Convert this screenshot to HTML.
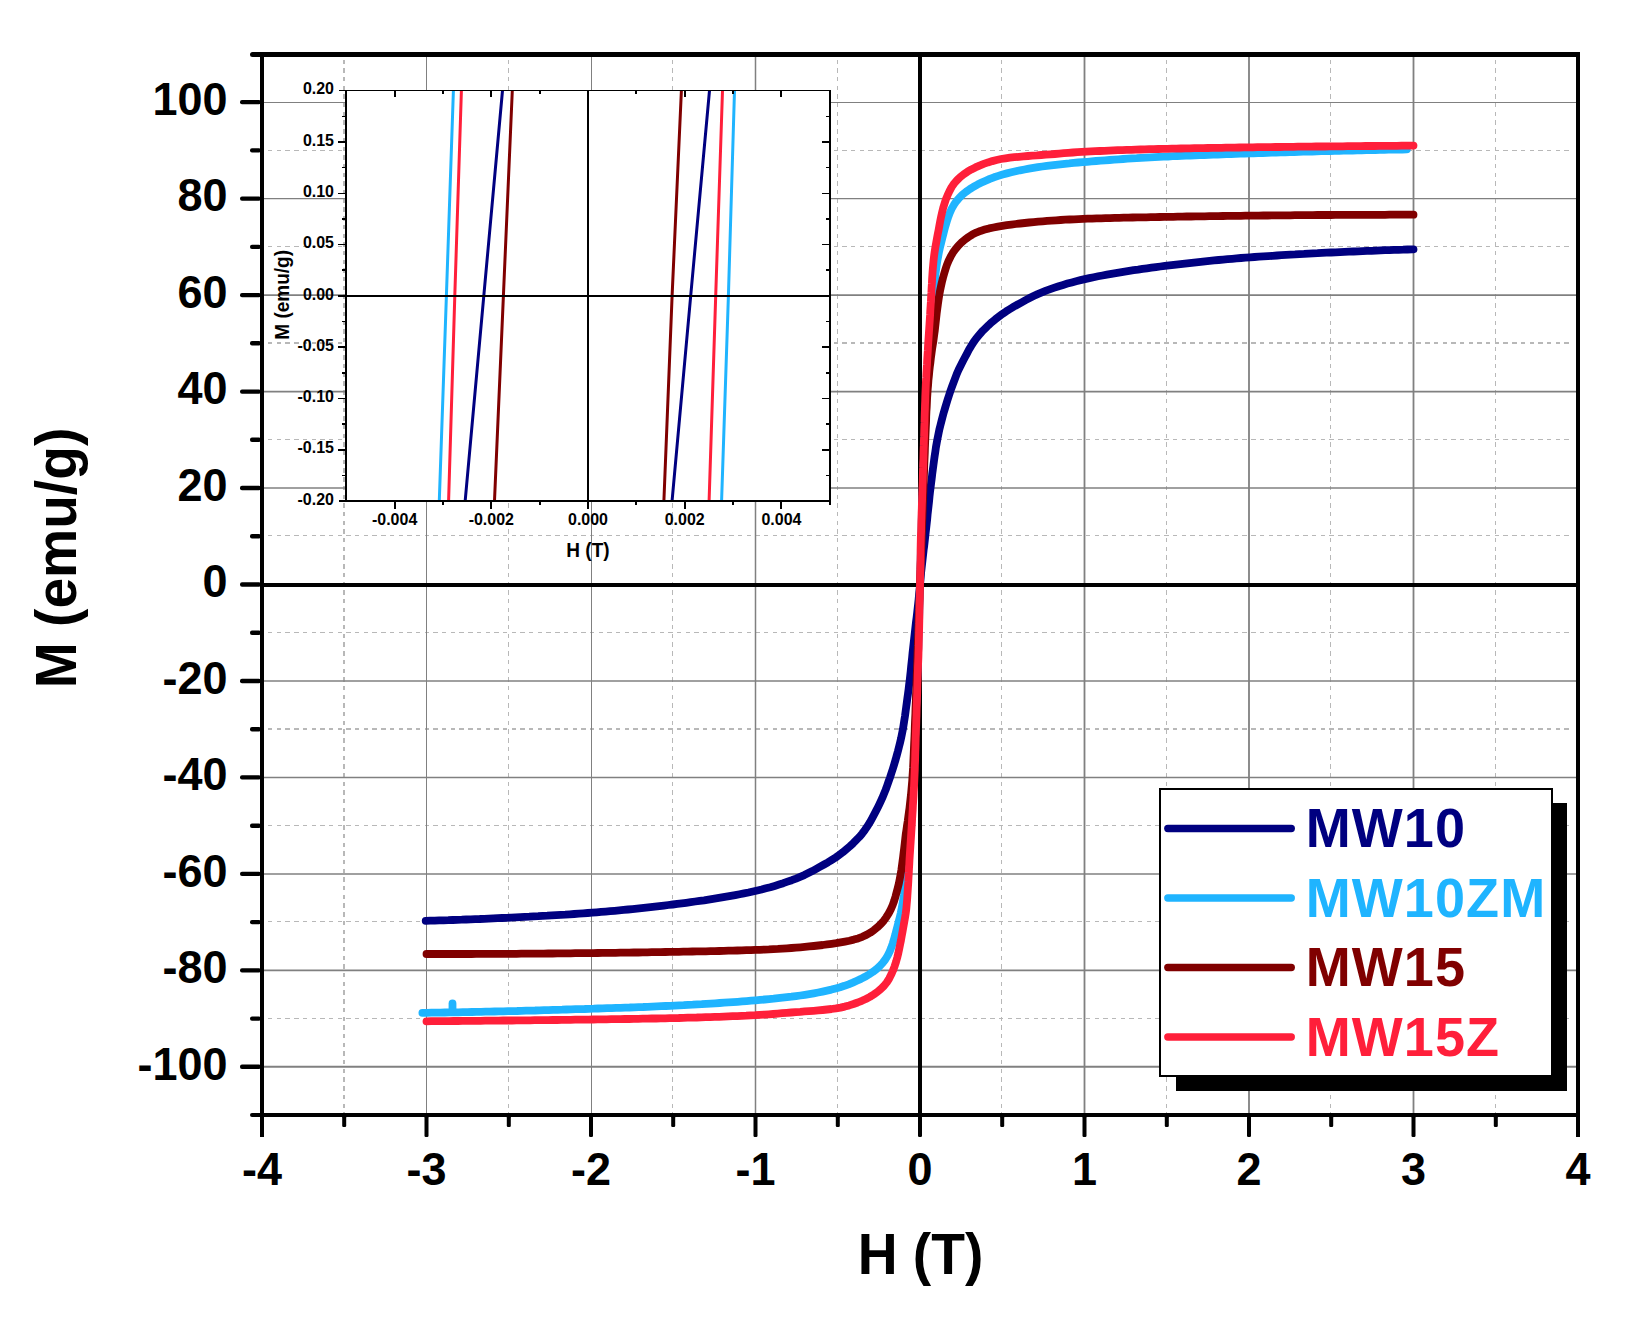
<!DOCTYPE html>
<html lang="en"><head><meta charset="utf-8"><title>M-H hysteresis loops</title>
<style>
html,body{margin:0;padding:0;background:#fff;}
body{width:1639px;height:1344px;overflow:hidden;font-family:"Liberation Sans",sans-serif;}
svg{display:block;}
</style></head><body>
<svg width="1639" height="1344" viewBox="0 0 1639 1344" font-family="'Liberation Sans', sans-serif" font-weight="bold">
<rect width="1639" height="1344" fill="#fff"/>
<g id="grid-minor" stroke="#b8b8b8" stroke-width="1" stroke-dasharray="4.4 4.3" fill="none" shape-rendering="crispEdges">
<line x1="344.0" y1="59.5" x2="344.0" y2="1113.0" stroke-width="2"/>
<line x1="508.5" y1="59.5" x2="508.5" y2="1113.0"/>
<line x1="672.5" y1="59.5" x2="672.5" y2="1113.0"/>
<line x1="837.5" y1="59.5" x2="837.5" y2="1113.0"/>
<line x1="1001.5" y1="59.5" x2="1001.5" y2="1113.0"/>
<line x1="1166.5" y1="59.5" x2="1166.5" y2="1113.0"/>
<line x1="1330.5" y1="59.5" x2="1330.5" y2="1113.0"/>
<line x1="1495.5" y1="59.5" x2="1495.5" y2="1113.0"/>
<line x1="268.0" y1="1018.5" x2="1572.0" y2="1018.5"/>
<line x1="268.0" y1="921.5" x2="1572.0" y2="921.5"/>
<line x1="268.0" y1="825.5" x2="1572.0" y2="825.5"/>
<line x1="268.0" y1="729.0" x2="1572.0" y2="729.0" stroke-width="2"/>
<line x1="268.0" y1="632.5" x2="1572.0" y2="632.5"/>
<line x1="268.0" y1="535.5" x2="1572.0" y2="535.5"/>
<line x1="268.0" y1="439.5" x2="1572.0" y2="439.5"/>
<line x1="268.0" y1="343.0" x2="1572.0" y2="343.0" stroke-width="2"/>
<line x1="268.0" y1="246.5" x2="1572.0" y2="246.5"/>
<line x1="268.0" y1="150.5" x2="1572.0" y2="150.5"/>
</g>
<g id="grid-major" stroke="#808080" stroke-width="1.6" fill="none">
<line x1="426.5" y1="54.5" x2="426.5" y2="1115.0" stroke-width="1.0"/>
<line x1="591.5" y1="54.5" x2="591.5" y2="1115.0" stroke-width="1.0"/>
<line x1="755.5" y1="54.5" x2="755.5" y2="1115.0" stroke-width="1.5"/>
<line x1="1084.5" y1="54.5" x2="1084.5" y2="1115.0" stroke-width="1.8"/>
<line x1="1249.0" y1="54.5" x2="1249.0" y2="1115.0" stroke-width="1.8"/>
<line x1="1413.5" y1="54.5" x2="1413.5" y2="1115.0" stroke-width="1.8"/>
<line x1="262.0" y1="1066.8" x2="1578.0" y2="1066.8" stroke-width="2.0"/>
<line x1="262.0" y1="970.4" x2="1578.0" y2="970.4" stroke-width="1.7"/>
<line x1="262.0" y1="873.9" x2="1578.0" y2="873.9" stroke-width="1.5"/>
<line x1="262.0" y1="777.4" x2="1578.0" y2="777.4" stroke-width="1.5"/>
<line x1="262.0" y1="681.0" x2="1578.0" y2="681.0" stroke-width="1.5"/>
<line x1="262.0" y1="488.0" x2="1578.0" y2="488.0" stroke-width="1.5"/>
<line x1="262.0" y1="391.6" x2="1578.0" y2="391.6" stroke-width="1.9"/>
<line x1="262.0" y1="295.1" x2="1578.0" y2="295.1" stroke-width="1.9"/>
<line x1="262.0" y1="198.6" x2="1578.0" y2="198.6" stroke-width="1.3"/>
<line x1="262.0" y1="102.5" x2="1578.0" y2="102.5" stroke-width="1.0"/>
</g>
<g id="zero" fill="#000">
<rect x="918" y="54" width="4" height="1062"/>
<rect x="262" y="583" width="1316" height="4"/>
</g>
<g id="curves" fill="none" stroke-width="7.8" stroke-linecap="round" stroke-linejoin="round">
<path stroke="#000080" d="M425.7 920.9 L430.2 920.7 L434.7 920.6 L439.2 920.4 L443.7 920.3 L448.2 920.2 L452.7 920.0 L457.2 919.8 L461.7 919.7 L466.2 919.5 L470.7 919.3 L475.2 919.1 L479.7 919.0 L484.2 918.8 L488.7 918.6 L493.2 918.4 L497.7 918.2 L502.2 918.0 L506.7 917.8 L511.2 917.6 L515.7 917.3 L520.2 917.1 L524.7 916.9 L529.2 916.7 L533.7 916.4 L538.2 916.2 L542.7 915.9 L547.2 915.7 L551.7 915.4 L556.2 915.1 L560.7 914.8 L565.2 914.6 L569.7 914.3 L574.2 914.0 L578.7 913.6 L583.2 913.3 L587.7 913.0 L592.2 912.7 L596.7 912.3 L601.1 911.9 L605.6 911.6 L610.1 911.2 L614.6 910.8 L619.1 910.4 L623.6 909.9 L628.1 909.5 L632.5 909.1 L637.0 908.6 L641.5 908.1 L646.0 907.6 L650.5 907.1 L654.9 906.6 L659.4 906.1 L663.9 905.6 L668.4 905.0 L672.8 904.5 L677.3 903.9 L681.8 903.3 L686.2 902.8 L690.7 902.2 L695.2 901.5 L699.6 900.9 L704.1 900.3 L708.5 899.6 L713.0 898.9 L717.4 898.2 L721.9 897.4 L726.3 896.7 L730.8 895.9 L735.2 895.1 L739.6 894.2 L744.0 893.4 L748.5 892.5 L752.9 891.5 L757.3 890.5 L761.6 889.5 L766.0 888.3 L770.3 887.2 L774.7 885.9 L779.0 884.6 L783.3 883.2 L787.5 881.7 L791.8 880.2 L796.0 878.6 L800.1 876.9 L804.3 875.1 L808.3 873.1 L812.3 871.1 L816.3 868.9 L820.2 866.7 L824.1 864.5 L828.0 862.3 L831.9 859.9 L835.7 857.5 L839.3 854.9 L842.9 852.2 L846.4 849.3 L849.8 846.4 L853.1 843.3 L856.3 840.1 L859.4 836.9 L862.3 833.4 L865.0 829.8 L867.6 826.1 L869.9 822.3 L872.1 818.3 L874.2 814.4 L876.3 810.4 L878.3 806.4 L880.3 802.3 L882.2 798.2 L883.9 794.1 L885.6 789.9 L887.1 785.7 L888.6 781.4 L890.1 777.2 L891.5 772.9 L892.9 768.6 L894.2 764.3 L895.5 760.0 L896.7 755.6 L897.9 751.3 L899.0 746.9 L900.1 742.5 L901.1 738.2 L902.0 733.7 L902.9 729.3 L903.6 724.9 L904.3 720.4 L905.0 716.0 L905.6 711.5 L906.2 707.0 L906.8 702.6 L907.4 698.1 L908.0 693.7 L908.6 689.2 L909.1 684.7 L909.7 680.2 L910.2 675.8 L910.7 671.3 L911.1 666.8 L911.6 662.3 L912.1 657.8 L912.5 653.4 L913.0 648.9 L913.5 644.4 L914.0 639.9 L914.5 635.4 L915.0 631.0 L915.5 626.5 L916.0 622.0 L916.6 617.5 L917.1 613.1 L917.6 608.6 L918.1 604.1 L918.6 599.6 L919.0 595.2 L919.5 590.7 L919.9 586.2 L920.3 581.7 L920.7 577.2 L921.1 572.7 L921.6 568.2 L922.1 563.8 L922.6 559.3 L923.1 554.8 L923.6 550.3 L924.2 545.9 L924.7 541.4 L925.2 536.9 L925.7 532.4 L926.2 528.0 L926.7 523.5 L927.2 519.0 L927.6 514.5 L928.1 510.0 L928.6 505.6 L929.1 501.1 L929.5 496.6 L930.0 492.1 L930.6 487.6 L931.1 483.2 L931.7 478.7 L932.2 474.2 L932.8 469.8 L933.4 465.3 L934.0 460.8 L934.6 456.4 L935.3 451.9 L935.9 447.5 L936.7 443.0 L937.5 438.6 L938.4 434.2 L939.3 429.8 L940.4 425.4 L941.5 421.0 L942.6 416.7 L943.8 412.3 L945.1 408.0 L946.4 403.7 L947.7 399.4 L949.1 395.1 L950.5 390.8 L952.0 386.6 L953.6 382.3 L955.2 378.1 L956.8 373.9 L958.6 369.8 L960.6 365.7 L962.6 361.7 L964.7 357.7 L966.8 353.8 L968.9 349.8 L971.2 345.9 L973.6 342.1 L976.2 338.5 L979.1 335.0 L982.0 331.6 L985.2 328.4 L988.4 325.3 L991.8 322.2 L995.2 319.4 L998.8 316.6 L1002.4 313.9 L1006.1 311.4 L1010.0 309.0 L1013.8 306.7 L1017.7 304.5 L1021.7 302.3 L1025.6 300.1 L1029.6 298.0 L1033.6 296.0 L1037.7 294.1 L1041.9 292.4 L1046.1 290.7 L1050.3 289.2 L1054.5 287.7 L1058.8 286.2 L1063.1 284.9 L1067.4 283.6 L1071.8 282.4 L1076.1 281.2 L1080.5 280.1 L1084.9 279.1 L1089.3 278.1 L1093.7 277.2 L1098.1 276.3 L1102.5 275.5 L1106.9 274.6 L1111.4 273.8 L1115.8 273.1 L1120.3 272.3 L1124.7 271.6 L1129.2 270.9 L1133.6 270.2 L1138.1 269.6 L1142.5 268.9 L1147.0 268.3 L1151.5 267.7 L1155.9 267.1 L1160.4 266.5 L1164.9 265.9 L1169.3 265.4 L1173.8 264.8 L1178.3 264.3 L1182.7 263.8 L1187.2 263.3 L1191.7 262.8 L1196.2 262.3 L1200.7 261.8 L1205.1 261.3 L1209.6 260.9 L1214.1 260.4 L1218.6 260.0 L1223.1 259.6 L1227.6 259.2 L1232.1 258.8 L1236.5 258.4 L1241.0 258.0 L1245.5 257.7 L1250.0 257.3 L1254.5 257.0 L1259.0 256.7 L1263.5 256.4 L1268.0 256.1 L1272.5 255.8 L1277.0 255.5 L1281.5 255.2 L1286.0 254.9 L1290.5 254.6 L1295.0 254.4 L1299.5 254.1 L1304.0 253.9 L1308.5 253.6 L1313.0 253.4 L1317.5 253.2 L1322.0 252.9 L1326.5 252.7 L1331.0 252.5 L1335.5 252.3 L1340.0 252.1 L1344.5 251.9 L1349.0 251.7 L1353.5 251.5 L1358.0 251.3 L1362.5 251.1 L1367.0 250.9 L1371.5 250.8 L1376.0 250.6 L1380.5 250.4 L1385.0 250.2 L1389.5 250.1 L1394.0 249.9 L1398.5 249.8 L1403.0 249.7 L1407.5 249.5 L1412.0 249.4 L1413.5 249.3"/>
<path stroke="#1fb4ff" d="M422.4 1012.9 L426.9 1012.8 L431.4 1012.7 L435.9 1012.7 L440.4 1012.6 L444.9 1012.5 L449.4 1012.4 L453.9 1012.3 L458.4 1012.3 L462.9 1012.2 L467.4 1012.1 L472.0 1012.0 L476.5 1011.9 L481.0 1011.8 L485.5 1011.7 L490.0 1011.6 L494.5 1011.5 L499.0 1011.4 L503.5 1011.3 L508.0 1011.2 L512.5 1011.1 L517.0 1011.0 L521.5 1010.8 L526.0 1010.7 L530.5 1010.6 L535.0 1010.5 L539.5 1010.3 L544.0 1010.2 L548.5 1010.1 L553.1 1009.9 L557.6 1009.8 L562.1 1009.7 L566.6 1009.5 L571.1 1009.4 L575.6 1009.2 L580.1 1009.1 L584.6 1009.0 L589.1 1008.8 L593.6 1008.7 L598.1 1008.5 L602.6 1008.4 L607.1 1008.2 L611.6 1008.1 L616.1 1007.9 L620.6 1007.8 L625.1 1007.6 L629.6 1007.5 L634.1 1007.3 L638.6 1007.1 L643.1 1007.0 L647.6 1006.8 L652.1 1006.6 L656.7 1006.4 L661.2 1006.2 L665.7 1006.0 L670.2 1005.8 L674.7 1005.6 L679.2 1005.4 L683.7 1005.2 L688.2 1004.9 L692.7 1004.7 L697.2 1004.4 L701.7 1004.2 L706.2 1003.9 L710.7 1003.6 L715.2 1003.3 L719.7 1003.0 L724.2 1002.7 L728.6 1002.4 L733.1 1002.1 L737.6 1001.8 L742.1 1001.4 L746.6 1001.1 L751.1 1000.7 L755.6 1000.3 L760.1 999.9 L764.6 999.5 L769.1 999.1 L773.6 998.7 L778.0 998.2 L782.5 997.7 L787.0 997.2 L791.5 996.7 L795.9 996.1 L800.4 995.5 L804.9 994.8 L809.3 994.1 L813.8 993.3 L818.2 992.5 L822.6 991.6 L827.0 990.6 L831.4 989.6 L835.7 988.4 L840.1 987.2 L844.4 985.8 L848.6 984.3 L852.8 982.6 L856.9 980.8 L861.0 978.9 L865.0 976.8 L868.9 974.5 L872.6 972.1 L876.2 969.3 L879.5 966.3 L882.5 963.1 L885.3 959.5 L887.6 955.7 L889.6 951.7 L891.3 947.5 L892.8 943.2 L894.1 938.9 L895.3 934.6 L896.4 930.2 L897.6 925.9 L898.7 921.5 L899.8 917.1 L900.8 912.8 L901.7 908.3 L902.5 903.9 L903.2 899.5 L903.9 895.0 L904.4 890.5 L904.9 886.0 L905.3 881.6 L905.7 877.1 L906.0 872.6 L906.4 868.1 L906.7 863.6 L907.0 859.1 L907.3 854.6 L907.7 850.1 L908.0 845.6 L908.3 841.1 L908.7 836.6 L909.0 832.1 L909.3 827.6 L909.7 823.1 L910.0 818.6 L910.4 814.1 L910.7 809.7 L911.1 805.2 L911.5 800.7 L911.9 796.2 L912.2 791.7 L912.6 787.2 L912.9 782.7 L913.2 778.2 L913.4 773.7 L913.7 769.2 L913.9 764.7 L914.1 760.2 L914.3 755.7 L914.5 751.2 L914.6 746.7 L914.8 742.2 L915.0 737.7 L915.2 733.2 L915.3 728.7 L915.5 724.2 L915.7 719.7 L915.9 715.2 L916.0 710.7 L916.2 706.2 L916.4 701.6 L916.6 697.1 L916.7 692.6 L916.9 688.1 L917.1 683.6 L917.2 679.1 L917.4 674.6 L917.5 670.1 L917.7 665.6 L917.9 661.1 L918.0 656.6 L918.1 652.1 L918.3 647.6 L918.4 643.1 L918.6 638.6 L918.7 634.1 L918.8 629.6 L918.9 625.1 L919.1 620.6 L919.2 616.1 L919.3 611.6 L919.4 607.1 L919.5 602.5 L919.7 598.0 L919.8 593.5 L919.9 589.0 L920.0 584.5 L920.1 580.0 L920.2 575.5 L920.3 571.0 L920.5 566.5 L920.6 562.0 L920.7 557.5 L920.8 553.0 L920.9 548.5 L921.1 544.0 L921.2 539.5 L921.3 535.0 L921.4 530.5 L921.6 526.0 L921.7 521.5 L921.8 516.9 L922.0 512.4 L922.1 507.9 L922.3 503.4 L922.4 498.9 L922.6 494.4 L922.7 489.9 L922.9 485.4 L923.0 480.9 L923.2 476.4 L923.4 471.9 L923.6 467.4 L923.7 462.9 L923.9 458.4 L924.1 453.9 L924.2 449.4 L924.4 444.9 L924.6 440.4 L924.8 435.9 L924.9 431.4 L925.1 426.9 L925.3 422.4 L925.4 417.9 L925.6 413.4 L925.8 408.9 L926.0 404.4 L926.2 399.9 L926.4 395.3 L926.7 390.8 L926.9 386.3 L927.2 381.9 L927.5 377.4 L927.9 372.9 L928.2 368.4 L928.6 363.9 L929.0 359.4 L929.4 354.9 L929.7 350.4 L930.1 345.9 L930.4 341.4 L930.7 336.9 L931.0 332.4 L931.4 327.9 L931.7 323.4 L932.0 318.9 L932.4 314.4 L932.7 309.9 L933.0 305.5 L933.3 301.0 L933.6 296.5 L934.0 292.0 L934.3 287.5 L934.7 283.0 L935.1 278.5 L935.5 274.0 L936.1 269.5 L936.7 265.1 L937.4 260.6 L938.2 256.2 L939.0 251.8 L940.0 247.4 L941.1 243.0 L942.2 238.6 L943.3 234.3 L944.4 229.9 L945.6 225.5 L946.9 221.2 L948.3 216.9 L949.9 212.7 L951.7 208.7 L953.9 204.8 L956.5 201.1 L959.4 197.7 L962.6 194.5 L966.1 191.7 L969.8 189.1 L973.6 186.7 L977.5 184.6 L981.6 182.6 L985.7 180.7 L989.8 178.9 L994.0 177.3 L998.3 175.9 L1002.6 174.5 L1006.9 173.4 L1011.3 172.3 L1015.7 171.3 L1020.1 170.3 L1024.5 169.5 L1028.9 168.6 L1033.4 167.9 L1037.8 167.2 L1042.3 166.5 L1046.8 165.9 L1051.2 165.4 L1055.7 164.8 L1060.2 164.3 L1064.7 163.8 L1069.2 163.4 L1073.6 162.9 L1078.1 162.5 L1082.6 162.1 L1087.1 161.8 L1091.6 161.4 L1096.1 161.0 L1100.6 160.7 L1105.1 160.3 L1109.6 160.0 L1114.1 159.7 L1118.6 159.3 L1123.1 159.0 L1127.6 158.7 L1132.1 158.4 L1136.6 158.2 L1141.1 157.9 L1145.6 157.6 L1150.0 157.4 L1154.6 157.1 L1159.1 156.9 L1163.6 156.7 L1168.1 156.5 L1172.6 156.2 L1177.1 156.0 L1181.6 155.8 L1186.1 155.7 L1190.6 155.5 L1195.1 155.3 L1199.6 155.1 L1204.1 155.0 L1208.6 154.8 L1213.1 154.6 L1217.6 154.5 L1222.1 154.3 L1226.6 154.2 L1231.1 154.0 L1235.6 153.9 L1240.1 153.7 L1244.6 153.6 L1249.1 153.4 L1253.6 153.3 L1258.1 153.1 L1262.6 153.0 L1267.1 152.8 L1271.6 152.7 L1276.1 152.5 L1280.7 152.4 L1285.2 152.3 L1289.7 152.1 L1294.2 152.0 L1298.7 151.8 L1303.2 151.7 L1307.7 151.6 L1312.2 151.5 L1316.7 151.3 L1321.2 151.2 L1325.7 151.1 L1330.2 151.0 L1334.7 150.9 L1339.2 150.8 L1343.7 150.7 L1348.2 150.6 L1352.7 150.5 L1357.2 150.4 L1361.7 150.3 L1366.3 150.2 L1370.8 150.1 L1375.3 150.0 L1379.8 149.9 L1384.3 149.8 L1388.8 149.7 L1393.3 149.6 L1397.8 149.5 L1402.3 149.5 L1406.8 149.4"/>
<path stroke="#1fb4ff" d="M452.5 1012.0 L452.5 1003.5"/>
<path stroke="#800000" d="M426.5 954.0 L431.0 954.0 L435.5 954.0 L440.0 954.0 L444.5 954.0 L449.0 954.0 L453.5 954.0 L458.0 954.0 L462.5 954.0 L467.1 954.0 L471.6 954.0 L476.1 953.9 L480.6 953.9 L485.1 953.9 L489.6 953.9 L494.1 953.9 L498.6 953.8 L503.1 953.8 L507.6 953.8 L512.1 953.8 L516.6 953.8 L521.1 953.7 L525.6 953.7 L530.1 953.7 L534.6 953.6 L539.1 953.6 L543.6 953.6 L548.2 953.5 L552.7 953.5 L557.2 953.4 L561.7 953.4 L566.2 953.3 L570.7 953.3 L575.2 953.2 L579.7 953.2 L584.2 953.2 L588.7 953.1 L593.2 953.1 L597.7 953.0 L602.2 952.9 L606.7 952.9 L611.2 952.8 L615.7 952.8 L620.2 952.7 L624.7 952.7 L629.2 952.6 L633.8 952.5 L638.3 952.5 L642.8 952.4 L647.3 952.3 L651.8 952.2 L656.3 952.2 L660.8 952.1 L665.3 952.0 L669.8 951.9 L674.3 951.9 L678.8 951.8 L683.3 951.7 L687.8 951.6 L692.3 951.5 L696.8 951.4 L701.3 951.4 L705.8 951.3 L710.3 951.2 L714.8 951.1 L719.3 951.0 L723.9 950.9 L728.4 950.7 L732.9 950.6 L737.4 950.5 L741.9 950.4 L746.4 950.2 L750.9 950.1 L755.4 949.9 L759.9 949.8 L764.4 949.6 L768.9 949.4 L773.4 949.1 L777.9 948.9 L782.4 948.6 L786.9 948.3 L791.4 948.0 L795.9 947.6 L800.3 947.3 L804.8 946.9 L809.3 946.4 L813.8 946.0 L818.3 945.5 L822.8 945.0 L827.2 944.4 L831.7 943.8 L836.2 943.2 L840.6 942.4 L845.0 941.6 L849.4 940.7 L853.8 939.6 L858.1 938.4 L862.3 936.8 L866.4 934.9 L870.3 932.7 L874.0 930.1 L877.4 927.3 L880.7 924.2 L883.7 920.8 L886.3 917.2 L888.7 913.4 L890.8 909.4 L892.6 905.3 L894.1 901.1 L895.4 896.8 L896.6 892.4 L897.7 888.1 L898.8 883.7 L899.7 879.3 L900.5 874.9 L901.3 870.4 L901.9 866.0 L902.5 861.5 L903.1 857.0 L903.6 852.6 L904.2 848.1 L904.7 843.6 L905.2 839.1 L905.7 834.7 L906.4 830.2 L907.0 825.7 L907.7 821.3 L908.3 816.8 L908.9 812.4 L909.5 807.9 L910.0 803.4 L910.5 798.9 L911.0 794.5 L911.4 790.0 L911.8 785.5 L912.2 781.0 L912.5 776.5 L912.8 772.0 L913.1 767.5 L913.3 763.0 L913.5 758.5 L913.7 754.0 L913.9 749.5 L914.1 745.0 L914.3 740.5 L914.5 736.0 L914.7 731.5 L914.8 727.0 L915.0 722.5 L915.2 718.0 L915.4 713.5 L915.5 709.0 L915.7 704.5 L915.9 700.0 L916.0 695.5 L916.2 691.0 L916.4 686.5 L916.5 682.0 L916.7 677.5 L916.8 673.0 L917.0 668.5 L917.2 664.0 L917.3 659.5 L917.5 654.9 L917.6 650.4 L917.8 645.9 L917.9 641.4 L918.1 636.9 L918.3 632.4 L918.4 627.9 L918.6 623.4 L918.7 618.9 L918.9 614.4 L919.1 609.9 L919.2 605.4 L919.4 600.9 L919.6 596.4 L919.7 591.9 L919.9 587.4 L920.1 582.9 L920.2 578.4 L920.4 573.9 L920.6 569.4 L920.7 564.9 L920.9 560.4 L921.1 555.9 L921.2 551.4 L921.4 546.9 L921.6 542.4 L921.7 537.9 L921.9 533.4 L922.0 528.9 L922.2 524.4 L922.3 519.9 L922.5 515.4 L922.7 510.9 L922.8 506.4 L923.0 501.9 L923.1 497.4 L923.3 492.8 L923.4 488.3 L923.6 483.8 L923.8 479.3 L923.9 474.8 L924.1 470.3 L924.2 465.8 L924.4 461.3 L924.6 456.8 L924.8 452.3 L924.9 447.8 L925.1 443.3 L925.3 438.8 L925.5 434.3 L925.7 429.8 L925.9 425.3 L926.1 420.8 L926.2 416.3 L926.4 411.8 L926.7 407.3 L926.9 402.8 L927.1 398.3 L927.4 393.8 L927.7 389.3 L928.1 384.8 L928.4 380.3 L928.9 375.9 L929.3 371.4 L929.8 366.9 L930.4 362.4 L930.9 357.9 L931.5 353.5 L932.1 349.0 L932.8 344.6 L933.5 340.1 L934.1 335.6 L934.7 331.2 L935.2 326.7 L935.7 322.2 L936.2 317.7 L936.7 313.3 L937.3 308.8 L937.9 304.3 L938.5 299.9 L939.2 295.4 L940.0 291.0 L940.9 286.6 L941.9 282.2 L943.0 277.8 L944.2 273.5 L945.5 269.2 L946.9 264.9 L948.6 260.7 L950.6 256.7 L952.8 252.8 L955.4 249.2 L958.3 245.7 L961.5 242.5 L964.9 239.6 L968.5 237.0 L972.3 234.6 L976.3 232.6 L980.5 230.9 L984.8 229.6 L989.1 228.4 L993.5 227.5 L997.9 226.6 L1002.4 225.9 L1006.8 225.2 L1011.3 224.6 L1015.8 224.0 L1020.2 223.5 L1024.7 223.0 L1029.2 222.5 L1033.7 222.1 L1038.2 221.6 L1042.6 221.3 L1047.1 220.9 L1051.6 220.6 L1056.1 220.3 L1060.6 220.0 L1065.1 219.7 L1069.6 219.5 L1074.1 219.3 L1078.6 219.1 L1083.1 218.9 L1087.6 218.7 L1092.1 218.6 L1096.6 218.4 L1101.1 218.3 L1105.6 218.2 L1110.1 218.1 L1114.6 217.9 L1119.2 217.8 L1123.7 217.7 L1128.2 217.6 L1132.7 217.5 L1137.2 217.4 L1141.7 217.4 L1146.2 217.3 L1150.7 217.2 L1155.2 217.1 L1159.7 217.0 L1164.2 216.9 L1168.7 216.9 L1173.2 216.8 L1177.7 216.7 L1182.2 216.6 L1186.7 216.5 L1191.2 216.5 L1195.7 216.4 L1200.2 216.3 L1204.7 216.3 L1209.3 216.2 L1213.8 216.1 L1218.3 216.1 L1222.8 216.0 L1227.3 215.9 L1231.8 215.9 L1236.3 215.8 L1240.8 215.8 L1245.3 215.7 L1249.8 215.7 L1254.3 215.6 L1258.8 215.6 L1263.3 215.5 L1267.8 215.5 L1272.3 215.4 L1276.8 215.4 L1281.3 215.3 L1285.8 215.3 L1290.3 215.3 L1294.9 215.2 L1299.4 215.2 L1303.9 215.1 L1308.4 215.1 L1312.9 215.1 L1317.4 215.0 L1321.9 215.0 L1326.4 215.0 L1330.9 215.0 L1335.4 214.9 L1339.9 214.9 L1344.4 214.9 L1348.9 214.9 L1353.4 214.9 L1357.9 214.8 L1362.4 214.8 L1366.9 214.8 L1371.4 214.8 L1376.0 214.8 L1380.5 214.8 L1385.0 214.8 L1389.5 214.7 L1394.0 214.7 L1398.5 214.7 L1403.0 214.7 L1407.5 214.7 L1412.0 214.7 L1413.5 214.7"/>
<path stroke="#ff1f3a" d="M426.5 1021.3 L431.0 1021.2 L435.5 1021.2 L440.0 1021.1 L444.5 1021.1 L449.0 1021.1 L453.5 1021.0 L458.0 1021.0 L462.5 1020.9 L467.0 1020.9 L471.5 1020.9 L476.0 1020.8 L480.6 1020.8 L485.1 1020.7 L489.6 1020.7 L494.1 1020.6 L498.6 1020.6 L503.1 1020.5 L507.6 1020.5 L512.1 1020.5 L516.6 1020.4 L521.1 1020.4 L525.6 1020.3 L530.1 1020.3 L534.6 1020.2 L539.1 1020.2 L543.6 1020.1 L548.1 1020.1 L552.6 1020.0 L557.1 1020.0 L561.6 1019.9 L566.1 1019.9 L570.6 1019.8 L575.1 1019.7 L579.6 1019.7 L584.1 1019.6 L588.6 1019.6 L593.2 1019.5 L597.7 1019.4 L602.2 1019.4 L606.7 1019.3 L611.2 1019.2 L615.7 1019.2 L620.2 1019.1 L624.7 1019.0 L629.2 1019.0 L633.7 1018.9 L638.2 1018.8 L642.7 1018.7 L647.2 1018.6 L651.7 1018.5 L656.2 1018.5 L660.7 1018.4 L665.2 1018.3 L669.7 1018.2 L674.2 1018.1 L678.7 1018.0 L683.2 1017.8 L687.7 1017.7 L692.2 1017.6 L696.7 1017.5 L701.2 1017.3 L705.7 1017.2 L710.2 1017.1 L714.7 1016.9 L719.2 1016.8 L723.7 1016.6 L728.2 1016.4 L732.7 1016.2 L737.2 1016.1 L741.7 1015.9 L746.2 1015.7 L750.7 1015.4 L755.2 1015.2 L759.7 1014.9 L764.2 1014.6 L768.7 1014.3 L773.2 1014.0 L777.7 1013.6 L782.2 1013.2 L786.7 1012.8 L791.2 1012.5 L795.7 1012.1 L800.2 1011.8 L804.6 1011.4 L809.1 1011.1 L813.6 1010.8 L818.1 1010.4 L822.6 1010.0 L827.1 1009.5 L831.6 1009.0 L836.0 1008.4 L840.5 1007.6 L844.8 1006.6 L849.2 1005.4 L853.5 1004.0 L857.7 1002.5 L861.9 1000.8 L865.9 999.0 L869.9 996.9 L873.7 994.5 L877.4 991.9 L880.8 989.0 L884.0 985.9 L886.8 982.4 L889.2 978.6 L891.2 974.6 L893.0 970.5 L894.6 966.3 L896.0 962.0 L897.2 957.7 L898.3 953.3 L899.2 948.9 L900.1 944.5 L901.0 940.1 L901.8 935.6 L902.6 931.2 L903.4 926.8 L904.2 922.3 L905.0 917.9 L905.7 913.5 L906.3 909.0 L906.7 904.5 L907.1 900.0 L907.4 895.5 L907.7 891.0 L908.0 886.5 L908.3 882.0 L908.5 877.5 L908.8 873.0 L909.0 868.5 L909.3 864.0 L909.5 859.6 L909.8 855.1 L910.1 850.6 L910.4 846.1 L910.7 841.6 L911.0 837.1 L911.3 832.6 L911.6 828.1 L911.9 823.6 L912.1 819.1 L912.4 814.6 L912.7 810.1 L912.9 805.6 L913.2 801.1 L913.5 796.6 L913.7 792.1 L914.0 787.6 L914.2 783.1 L914.4 778.6 L914.6 774.1 L914.8 769.6 L914.9 765.1 L915.1 760.6 L915.2 756.1 L915.3 751.6 L915.5 747.1 L915.6 742.6 L915.7 738.1 L915.9 733.6 L916.0 729.1 L916.2 724.6 L916.3 720.1 L916.5 715.6 L916.6 711.1 L916.7 706.6 L916.9 702.1 L917.0 697.6 L917.2 693.1 L917.3 688.6 L917.4 684.1 L917.6 679.6 L917.7 675.1 L917.9 670.6 L918.0 666.1 L918.2 661.6 L918.4 657.1 L918.5 652.6 L918.7 648.1 L918.8 643.6 L918.9 639.1 L919.0 634.6 L919.1 630.1 L919.2 625.6 L919.3 621.0 L919.4 616.5 L919.5 612.0 L919.6 607.5 L919.7 603.0 L919.8 598.5 L919.8 594.0 L919.9 589.5 L920.0 585.0 L920.1 580.5 L920.1 576.0 L920.2 571.5 L920.3 567.0 L920.4 562.5 L920.5 558.0 L920.6 553.5 L920.6 549.0 L920.7 544.5 L920.8 540.0 L920.9 535.5 L921.1 531.0 L921.2 526.5 L921.3 522.0 L921.5 517.5 L921.6 513.0 L921.8 508.5 L921.9 504.0 L922.1 499.5 L922.2 495.0 L922.4 490.5 L922.5 486.0 L922.7 481.5 L922.8 477.0 L922.9 472.4 L923.1 467.9 L923.2 463.4 L923.4 458.9 L923.5 454.4 L923.6 449.9 L923.8 445.4 L923.9 440.9 L924.1 436.4 L924.2 431.9 L924.3 427.4 L924.5 422.9 L924.6 418.4 L924.7 413.9 L924.9 409.4 L925.0 404.9 L925.2 400.4 L925.3 395.9 L925.5 391.4 L925.7 386.9 L925.9 382.4 L926.2 377.9 L926.4 373.4 L926.7 368.9 L927.0 364.4 L927.2 359.9 L927.5 355.4 L927.8 350.9 L928.0 346.4 L928.3 341.9 L928.6 337.4 L928.9 333.0 L929.2 328.5 L929.5 324.0 L929.8 319.5 L930.1 315.0 L930.3 310.5 L930.6 306.0 L930.9 301.5 L931.1 297.0 L931.4 292.5 L931.6 288.0 L931.9 283.5 L932.1 279.0 L932.4 274.5 L932.7 270.0 L933.1 265.5 L933.5 261.0 L934.0 256.6 L934.6 252.1 L935.3 247.7 L936.1 243.2 L936.9 238.8 L937.7 234.4 L938.6 229.9 L939.4 225.5 L940.2 221.1 L941.1 216.7 L942.1 212.3 L943.2 207.9 L944.5 203.6 L945.9 199.3 L947.6 195.2 L949.5 191.1 L951.6 187.1 L954.1 183.5 L957.1 180.1 L960.3 177.0 L963.8 174.2 L967.5 171.7 L971.4 169.4 L975.4 167.4 L979.5 165.6 L983.7 163.9 L988.0 162.4 L992.3 161.1 L996.6 160.0 L1001.0 159.0 L1005.5 158.3 L1009.9 157.7 L1014.4 157.2 L1018.9 156.8 L1023.4 156.4 L1027.9 156.0 L1032.4 155.7 L1036.9 155.4 L1041.3 155.0 L1045.8 154.7 L1050.3 154.3 L1054.8 154.0 L1059.3 153.6 L1063.8 153.2 L1068.3 152.8 L1072.8 152.5 L1077.3 152.2 L1081.8 151.9 L1086.3 151.6 L1090.8 151.4 L1095.3 151.2 L1099.8 151.0 L1104.3 150.8 L1108.8 150.6 L1113.3 150.4 L1117.8 150.2 L1122.3 150.1 L1126.8 149.9 L1131.3 149.8 L1135.8 149.6 L1140.3 149.5 L1144.8 149.4 L1149.3 149.2 L1153.8 149.1 L1158.3 149.0 L1162.8 148.9 L1167.3 148.8 L1171.8 148.7 L1176.3 148.6 L1180.8 148.5 L1185.3 148.4 L1189.8 148.3 L1194.3 148.2 L1198.8 148.1 L1203.3 148.1 L1207.8 148.0 L1212.3 147.9 L1216.8 147.8 L1221.3 147.8 L1225.8 147.7 L1230.3 147.6 L1234.8 147.6 L1239.3 147.5 L1243.8 147.4 L1248.3 147.4 L1252.9 147.3 L1257.4 147.2 L1261.9 147.2 L1266.4 147.1 L1270.9 147.1 L1275.4 147.0 L1279.9 147.0 L1284.4 146.9 L1288.9 146.8 L1293.4 146.8 L1297.9 146.7 L1302.4 146.7 L1306.9 146.6 L1311.4 146.6 L1315.9 146.5 L1320.4 146.5 L1324.9 146.5 L1329.4 146.4 L1333.9 146.4 L1338.4 146.3 L1342.9 146.3 L1347.4 146.2 L1351.9 146.2 L1356.4 146.1 L1361.0 146.1 L1365.5 146.0 L1370.0 146.0 L1374.5 146.0 L1379.0 145.9 L1383.5 145.9 L1388.0 145.8 L1392.5 145.8 L1397.0 145.8 L1401.5 145.7 L1406.0 145.7 L1410.5 145.6 L1413.5 145.6"/>
</g>
<g id="frame" fill="#000">
<rect x="250" y="52" width="16" height="5" rx="2.5"/>
<rect x="260" y="52" width="1320" height="5"/>
<rect x="250" y="1113" width="16" height="4" rx="2"/>
<rect x="260" y="1113" width="1320" height="4"/>
<rect x="260" y="52" width="4" height="1085"/>
<rect x="1576" y="52" width="4" height="1085"/>
<rect x="240" y="1064.6" width="21" height="4.4" rx="2"/>
<rect x="250" y="1016.4" width="11" height="4.4" rx="2"/>
<rect x="240" y="968.2" width="21" height="4.4" rx="2"/>
<rect x="250" y="919.9" width="11" height="4.4" rx="2"/>
<rect x="240" y="871.7" width="21" height="4.4" rx="2"/>
<rect x="250" y="823.5" width="11" height="4.4" rx="2"/>
<rect x="240" y="775.2" width="21" height="4.4" rx="2"/>
<rect x="250" y="727.0" width="11" height="4.4" rx="2"/>
<rect x="240" y="678.8" width="21" height="4.4" rx="2"/>
<rect x="250" y="630.5" width="11" height="4.4" rx="2"/>
<rect x="240" y="582.3" width="21" height="4.4" rx="2"/>
<rect x="250" y="534.1" width="11" height="4.4" rx="2"/>
<rect x="240" y="485.8" width="21" height="4.4" rx="2"/>
<rect x="250" y="437.6" width="11" height="4.4" rx="2"/>
<rect x="240" y="389.4" width="21" height="4.4" rx="2"/>
<rect x="250" y="341.1" width="11" height="4.4" rx="2"/>
<rect x="240" y="292.9" width="21" height="4.4" rx="2"/>
<rect x="250" y="244.7" width="11" height="4.4" rx="2"/>
<rect x="240" y="196.4" width="21" height="4.4" rx="2"/>
<rect x="250" y="148.2" width="11" height="4.4" rx="2"/>
<rect x="240" y="99.9" width="21" height="4.4" rx="2"/>
<rect x="260.0" y="1116" width="4" height="21" rx="1.2"/>
<rect x="342.2" y="1116" width="4" height="11" rx="1.2"/>
<rect x="424.5" y="1116" width="4" height="21" rx="1.2"/>
<rect x="506.8" y="1116" width="4" height="11" rx="1.2"/>
<rect x="589.0" y="1116" width="4" height="21" rx="1.2"/>
<rect x="671.2" y="1116" width="4" height="11" rx="1.2"/>
<rect x="753.5" y="1116" width="4" height="21" rx="1.2"/>
<rect x="835.8" y="1116" width="4" height="11" rx="1.2"/>
<rect x="918.0" y="1116" width="4" height="21" rx="1.2"/>
<rect x="1000.2" y="1116" width="4" height="11" rx="1.2"/>
<rect x="1082.5" y="1116" width="4" height="21" rx="1.2"/>
<rect x="1164.8" y="1116" width="4" height="11" rx="1.2"/>
<rect x="1247.0" y="1116" width="4" height="21" rx="1.2"/>
<rect x="1329.2" y="1116" width="4" height="11" rx="1.2"/>
<rect x="1411.5" y="1116" width="4" height="21" rx="1.2"/>
<rect x="1493.8" y="1116" width="4" height="11" rx="1.2"/>
<rect x="1576.0" y="1116" width="4" height="21" rx="1.2"/>
</g>
<g id="ylabels" font-size="45" text-anchor="end" fill="#000">
<text transform="translate(227.5 1079.6) scale(1 1.04)">-100</text>
<text transform="translate(227.5 983.2) scale(1 1.04)">-80</text>
<text transform="translate(227.5 886.7) scale(1 1.04)">-60</text>
<text transform="translate(227.5 790.2) scale(1 1.04)">-40</text>
<text transform="translate(227.5 693.8) scale(1 1.04)">-20</text>
<text transform="translate(227.5 597.3) scale(1 1.04)">0</text>
<text transform="translate(227.5 500.8) scale(1 1.04)">20</text>
<text transform="translate(227.5 404.4) scale(1 1.04)">40</text>
<text transform="translate(227.5 307.9) scale(1 1.04)">60</text>
<text transform="translate(227.5 211.4) scale(1 1.04)">80</text>
<text transform="translate(227.5 114.9) scale(1 1.04)">100</text>
</g>
<g id="xlabels" font-size="45" text-anchor="middle" fill="#000">
<text transform="translate(262.0 1184.7) scale(1 1.04)">-4</text>
<text transform="translate(426.5 1184.7) scale(1 1.04)">-3</text>
<text transform="translate(591.0 1184.7) scale(1 1.04)">-2</text>
<text transform="translate(755.5 1184.7) scale(1 1.04)">-1</text>
<text transform="translate(920.0 1184.7) scale(1 1.04)">0</text>
<text transform="translate(1084.5 1184.7) scale(1 1.04)">1</text>
<text transform="translate(1249.0 1184.7) scale(1 1.04)">2</text>
<text transform="translate(1413.5 1184.7) scale(1 1.04)">3</text>
<text transform="translate(1578.0 1184.7) scale(1 1.04)">4</text>
</g>
<text id="xtitle" transform="translate(920.5 1274) scale(1 1.04)" font-size="55.2" text-anchor="middle" fill="#000">H (T)</text>
<text id="ytitle" transform="translate(75.5 558) rotate(-90) scale(1 1.04)" font-size="55.2" text-anchor="middle" fill="#000">M (emu/g)</text>
<g id="inset">
<rect x="346" y="90" width="484" height="411" fill="#fff"/>
<clipPath id="ic"><rect x="346" y="90.5" width="484" height="410.5"/></clipPath>
<g clip-path="url(#ic)" fill="none" stroke-width="3">
<path stroke="#000080" d="M502.8 87.5 L502.5 90.5 L483.8 295.9 L465.2 500.7 L464.9 503.7"/>
<path stroke="#000080" d="M709.8 87.5 L709.5 90.5 L690.7 295.9 L672.1 500.7 L671.8 503.7"/>
<path stroke="#1fb4ff" d="M453.5 87.5 L453.4 90.5 L446.4 295.9 L439.3 500.7 L439.2 503.7"/>
<path stroke="#1fb4ff" d="M734.6 87.5 L734.5 90.5 L728.4 295.9 L721.6 500.7 L721.5 503.7"/>
<path stroke="#800000" d="M512.4 87.5 L512.3 90.5 L503.4 295.9 L494.5 500.7 L494.4 503.7"/>
<path stroke="#800000" d="M681.5 87.5 L681.4 90.5 L672.1 295.9 L663.9 500.7 L663.8 503.7"/>
<path stroke="#ff1f3a" d="M461.5 87.5 L461.4 90.5 L454.8 295.9 L448.6 500.7 L448.5 503.7"/>
<path stroke="#ff1f3a" d="M722.6 87.5 L722.5 90.5 L715.7 295.9 L709.1 500.7 L709.0 503.7"/>
</g>
<g fill="#000" shape-rendering="crispEdges">
<rect x="345" y="90" width="486" height="1.3"/>
<rect x="339" y="500" width="492" height="2"/>
<rect x="345" y="90" width="2" height="412"/>
<rect x="829" y="90" width="2" height="415"/>
<rect x="339" y="295" width="492" height="2"/>
<rect x="587" y="90" width="2" height="419"/>
<rect x="393.6" y="501" width="2" height="8"/>
<rect x="393.6" y="90" width="2" height="7"/>
<rect x="441.9" y="501" width="2" height="4"/>
<rect x="441.9" y="90" width="2" height="4"/>
<rect x="490.3" y="501" width="2" height="8"/>
<rect x="490.3" y="90" width="2" height="7"/>
<rect x="538.6" y="501" width="2" height="4"/>
<rect x="538.6" y="90" width="2" height="4"/>
<rect x="587.0" y="501" width="2" height="8"/>
<rect x="587.0" y="90" width="2" height="7"/>
<rect x="635.4" y="501" width="2" height="4"/>
<rect x="635.4" y="90" width="2" height="4"/>
<rect x="683.7" y="501" width="2" height="8"/>
<rect x="683.7" y="90" width="2" height="7"/>
<rect x="732.0" y="501" width="2" height="4"/>
<rect x="732.0" y="90" width="2" height="4"/>
<rect x="780.4" y="501" width="2" height="8"/>
<rect x="780.4" y="90" width="2" height="7"/>
<rect x="341.5" y="474.6" width="3.5" height="1.6"/>
<rect x="825.5" y="474.6" width="3.5" height="1.6"/>
<rect x="338.0" y="449.0" width="7.0" height="1.6"/>
<rect x="822.0" y="449.0" width="7.0" height="1.6"/>
<rect x="341.5" y="423.3" width="3.5" height="1.6"/>
<rect x="825.5" y="423.3" width="3.5" height="1.6"/>
<rect x="338.0" y="397.7" width="7.0" height="1.6"/>
<rect x="822.0" y="397.7" width="7.0" height="1.6"/>
<rect x="341.5" y="372.0" width="3.5" height="1.6"/>
<rect x="825.5" y="372.0" width="3.5" height="1.6"/>
<rect x="338.0" y="346.4" width="7.0" height="1.6"/>
<rect x="822.0" y="346.4" width="7.0" height="1.6"/>
<rect x="341.5" y="320.7" width="3.5" height="1.6"/>
<rect x="825.5" y="320.7" width="3.5" height="1.6"/>
<rect x="338.0" y="295.1" width="7.0" height="1.6"/>
<rect x="822.0" y="295.1" width="7.0" height="1.6"/>
<rect x="341.5" y="269.4" width="3.5" height="1.6"/>
<rect x="825.5" y="269.4" width="3.5" height="1.6"/>
<rect x="338.0" y="243.8" width="7.0" height="1.6"/>
<rect x="822.0" y="243.8" width="7.0" height="1.6"/>
<rect x="341.5" y="218.1" width="3.5" height="1.6"/>
<rect x="825.5" y="218.1" width="3.5" height="1.6"/>
<rect x="338.0" y="192.5" width="7.0" height="1.6"/>
<rect x="822.0" y="192.5" width="7.0" height="1.6"/>
<rect x="341.5" y="166.8" width="3.5" height="1.6"/>
<rect x="825.5" y="166.8" width="3.5" height="1.6"/>
<rect x="338.0" y="141.2" width="7.0" height="1.6"/>
<rect x="822.0" y="141.2" width="7.0" height="1.6"/>
<rect x="341.5" y="115.5" width="3.5" height="1.6"/>
<rect x="825.5" y="115.5" width="3.5" height="1.6"/>
<rect x="338.7" y="90" width="7" height="1.3"/>
</g>
<g font-size="16" text-anchor="end" fill="#000">
<text transform="translate(334 504.7) scale(1 1.04)">-0.20</text>
<text transform="translate(334 453.4) scale(1 1.04)">-0.15</text>
<text transform="translate(334 402.1) scale(1 1.04)">-0.10</text>
<text transform="translate(334 350.8) scale(1 1.04)">-0.05</text>
<text transform="translate(334 299.5) scale(1 1.04)">0.00</text>
<text transform="translate(334 248.2) scale(1 1.04)">0.05</text>
<text transform="translate(334 196.9) scale(1 1.04)">0.10</text>
<text transform="translate(334 145.6) scale(1 1.04)">0.15</text>
<text transform="translate(334 94.3) scale(1 1.04)">0.20</text>
</g>
<g font-size="16" text-anchor="middle" fill="#000">
<text transform="translate(394.6 524.8) scale(1 1.04)">-0.004</text>
<text transform="translate(491.3 524.8) scale(1 1.04)">-0.002</text>
<text transform="translate(588.0 524.8) scale(1 1.04)">0.000</text>
<text transform="translate(684.7 524.8) scale(1 1.04)">0.002</text>
<text transform="translate(781.4 524.8) scale(1 1.04)">0.004</text>
</g>
<text transform="translate(588 557) scale(1 1.04)" font-size="19" text-anchor="middle" fill="#000">H (T)</text>
<text transform="translate(289.2 294.8) rotate(-90) scale(1 1.04)" font-size="19" text-anchor="middle" fill="#000">M (emu/g)</text>
</g>
<g id="legend">
<rect x="1176" y="803" width="391" height="288" fill="#000"/>
<rect x="1160" y="789" width="392" height="287" fill="#fff" stroke="#000" stroke-width="2"/>
<line x1="1167.8" y1="828.5" x2="1291.3" y2="828.5" stroke="#000080" stroke-width="7.3" stroke-linecap="round"/>
<text transform="translate(1305.7 847.3) scale(1 1.04)" font-size="54" letter-spacing="1.1" fill="#000080">MW10</text>
<line x1="1167.8" y1="898.0" x2="1291.3" y2="898.0" stroke="#1fb4ff" stroke-width="7.3" stroke-linecap="round"/>
<text transform="translate(1305.7 916.8) scale(1 1.04)" font-size="54" letter-spacing="1.1" fill="#1fb4ff">MW10ZM</text>
<line x1="1167.8" y1="967.5" x2="1291.3" y2="967.5" stroke="#800000" stroke-width="7.3" stroke-linecap="round"/>
<text transform="translate(1305.7 986.3) scale(1 1.04)" font-size="54" letter-spacing="1.1" fill="#800000">MW15</text>
<line x1="1167.8" y1="1037.0" x2="1291.3" y2="1037.0" stroke="#ff1f3a" stroke-width="7.3" stroke-linecap="round"/>
<text transform="translate(1305.7 1055.8) scale(1 1.04)" font-size="54" letter-spacing="1.1" fill="#ff1f3a">MW15Z</text>
</g>
</svg>
</body></html>
